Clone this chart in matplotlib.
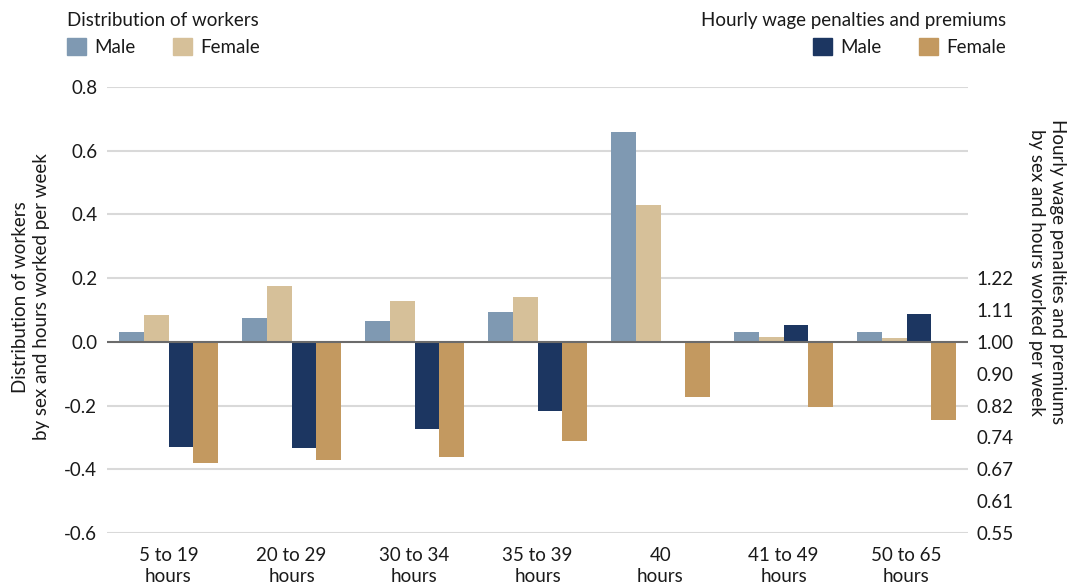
import numpy as np
import matplotlib
matplotlib.use("Agg")
import matplotlib.pyplot as plt
from matplotlib.patches import Patch

plt.rcParams['font.family'] = ['Lato', 'DejaVu Sans']

categories = ["5 to 19\nhours", "20 to 29\nhours", "30 to 34\nhours", "35 to 39\nhours",
              "40\nhours", "41 to 49\nhours", "50 to 65\nhours"]
dist_male = [0.032, 0.076, 0.066, 0.094, 0.658, 0.031, 0.031]
dist_female = [0.085, 0.176, 0.129, 0.141, 0.431, 0.015, 0.012]
wage_male = [-0.330, -0.333, -0.273, -0.218, 0.0, 0.053, 0.087]
wage_female = [-0.381, -0.372, -0.362, -0.312, -0.173, -0.203, -0.246]

left_ticks = [-0.6, -0.4, -0.2, 0.0, 0.2, 0.4, 0.6, 0.8]
left_labels = ["-0.6", "-0.4", "-0.2", "0.0", "0.2", "0.4", "0.6", "0.8"]
right_ticks = [-0.6, -0.5, -0.4, -0.3, -0.2, -0.1, 0.0, 0.1, 0.2]
right_labels = ["0.55", "0.61", "0.67", "0.74", "0.82", "0.90", "1.00", "1.11", "1.22"]

c_dm = "#7f99b2"
c_df = "#d6c099"
c_wm = "#1c3661"
c_wf = "#c39960"

fig = plt.figure(figsize=(10.67, 5.88), dpi=100)
ax = fig.add_axes([107/1067, 1-533/588, (968-107)/1067, (533-87)/588])
ax2 = ax.twinx()

x = np.arange(len(categories))
w = 0.2
ax.set_xlim(-0.5, len(categories)-0.5)
ax.set_ylim(-0.6, 0.8)
ax2.set_ylim(-0.6, 0.8)

for t in left_ticks:
    if t != 0:
        ax.axhline(t, color="#d9d9d9", lw=1.5, zorder=0)

b1 = ax.bar(x - 1.5*w, dist_male, w, color=c_dm, zorder=2)
b2 = ax.bar(x - 0.5*w, dist_female, w, color=c_df, zorder=2)
b3 = ax2.bar(x + 0.5*w, wage_male, w, color=c_wm, zorder=2)
b4 = ax2.bar(x + 1.5*w, wage_female, w, color=c_wf, zorder=2)
ax2.axhline(0, color="#6b6b6b", lw=1.5, zorder=3)

fs = 13.5
ax.set_yticks(left_ticks)
ax.set_yticklabels(left_labels)
ax2.set_yticks(right_ticks)
ax2.set_yticklabels(right_labels)
ax.set_xticks(x)
ax.set_xticklabels(categories, linespacing=1.3)

ax.tick_params(axis='both', length=0, labelsize=fs, colors="#1a1a1a")
ax.tick_params(axis='y', pad=7)
ax.tick_params(axis='x', pad=10)
ax2.tick_params(axis='y', length=0, labelsize=fs, colors="#1a1a1a", pad=6)
for a in (ax, ax2):
    for s in a.spines.values():
        s.set_visible(False)

fig.text(31/1067, 1-297/588, "Distribution of workers\nby sex and hours worked per week",
         rotation=90, ha='center', va='center', fontsize=fs, color="#1a1a1a", linespacing=1.3)
fig.text(1047/1067, 1-272/588, "Hourly wage penalties and premiums\nby sex and hours worked per week",
         rotation=-90, ha='center', va='center', fontsize=fs, color="#1a1a1a", linespacing=1.3)

leg1 = fig.legend([Patch(color=c_dm), Patch(color=c_df)], ["Male", "Female"],
                  title="Distribution of workers", loc='upper left',
                  bbox_to_anchor=(52/1067, 1.005), ncol=2, frameon=False, fontsize=fs,
                  title_fontsize=fs, handlelength=1.0, handleheight=1.0,
                  handletextpad=0.45, columnspacing=2.0, alignment='left', borderpad=0.3)
leg2 = fig.legend([Patch(color=c_wm), Patch(color=c_wf)], ["Male", "Female"],
                  title="Hourly wage penalties and premiums", loc='upper right',
                  bbox_to_anchor=(1021/1067, 1.005), ncol=2, frameon=False, fontsize=fs,
                  title_fontsize=fs, handlelength=1.0, handleheight=1.0,
                  handletextpad=0.45, columnspacing=2.0, alignment='right', borderpad=0.3)
for leg in (leg1, leg2):
    leg.get_title().set_color("#1a1a1a")
    for t in leg.get_texts():
        t.set_color("#1a1a1a")

fig.savefig("out.png", dpi=100)
